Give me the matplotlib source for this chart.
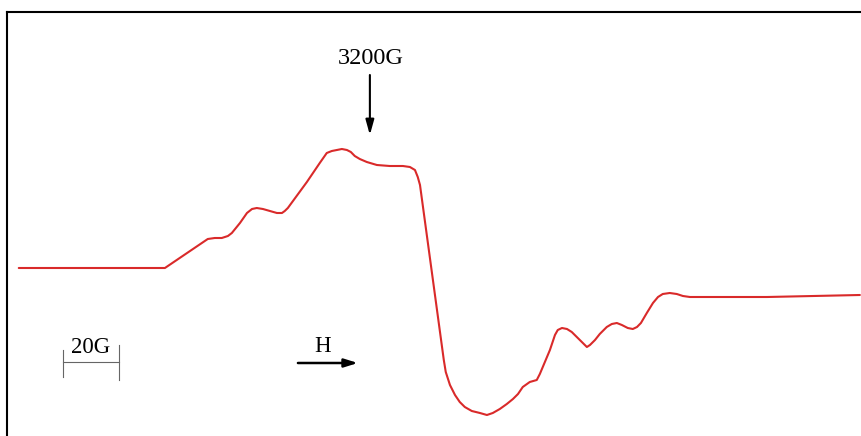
import matplotlib.pyplot as plt

# EPR spectrum trace (field in gauss, signal in arbitrary units)
field = [3074.6, 3126.8, 3142.1, 3144.6, 3147.1, 3149.3, 3150.7, 3153.6, 3156.1,
         3157.9, 3159.6, 3161.8, 3164.3, 3166.8, 3168.6, 3169.6, 3170.7, 3177.5,
         3182.1, 3184.6, 3186.4, 3188.2, 3190.0, 3191.8, 3193.2, 3194.6, 3196.4,
         3198.9, 3202.5, 3207.1, 3211.8, 3214.3, 3216.1, 3217.1, 3217.9, 3226.4,
         3227.1, 3228.6, 3230.4, 3232.1, 3233.9, 3236.4, 3239.3, 3241.8, 3243.9,
         3246.4, 3248.9, 3251.1, 3252.9, 3254.6, 3257.1, 3259.6, 3260.7, 3264.3,
         3266.1, 3267.1, 3268.6, 3270.4, 3272.1, 3273.9, 3275.7, 3277.5, 3278.6,
         3280.4, 3282.1, 3284.6, 3286.4, 3288.2, 3290.0, 3292.1, 3293.9, 3295.4,
         3296.8, 3298.9, 3301.1, 3302.9, 3304.6, 3307.1, 3309.6, 3311.8, 3314.3,
         3341.8, 3375.0]
signal = [0, 0, 29, 30, 30, 32, 35, 45, 55,
          59, 60, 59, 57, 55, 55, 57, 60, 86,
          105, 115, 117, 118, 119, 118, 116, 112, 109,
          106, 103, 102, 102, 101, 98, 91, 83, -92,
          -104, -117, -127, -134, -139, -143, -145, -147, -145,
          -141, -136, -131, -126, -119, -114, -112, -106, -82,
          -67, -62, -60, -61, -64, -69, -74, -79, -77,
          -72, -66, -59, -56, -55, -57, -60, -61, -59,
          -55, -45, -35, -29, -26, -25, -26, -28, -29,
          -29, -27]

center_label = "3200G"
center_field = 3200
scale_label = "20G"
scale_width = 20

fig = plt.figure(figsize=(8.61, 4.36), dpi=100)
ax = fig.add_axes([7 / 861, 0, 1 - 7 / 861, 1 - 12 / 436])
ax.set_xlim(3070.4, 3375.4)
ax.set_ylim(-168, 256)
ax.set_xticks([])
ax.set_yticks([])
ax.spines['right'].set_visible(False)
ax.spines['bottom'].set_visible(False)
ax.spines['top'].set_linewidth(1.5)
ax.spines['left'].set_linewidth(1.5)

ax.plot(field, signal, color='#d92a2a', lw=1.5, solid_joinstyle='round',
        solid_capstyle='round')

serif = ['Liberation Serif', 'DejaVu Serif']

# marker at the central field
ax.text(center_field + 0.4, 210, center_label, ha='center', va='center',
        fontsize=17.5, family=serif)
ax.annotate('', xy=(center_field, 133), xytext=(center_field, 193),
            arrowprops=dict(arrowstyle='-|>,head_length=0.9,head_width=0.25',
                            color='black', lw=1.5, shrinkA=0, shrinkB=0))

# 20 G scale bar
x0 = 3090.4
ax.plot([x0, x0 + scale_width], [-94, -94], color='#666666', lw=0.8)
ax.plot([x0, x0], [-82, -109], color='#666666', lw=0.8)
ax.plot([x0 + scale_width, x0 + scale_width], [-77, -112], color='#666666', lw=0.8)
ax.text(x0 + scale_width / 2, -79, scale_label, ha='center', va='center',
        fontsize=16.5, family=serif)

# field direction
ax.annotate('', xy=(3195.7, -95), xytext=(3174.3, -95),
            arrowprops=dict(arrowstyle='-|>,head_length=0.8,head_width=0.25',
                            color='black', lw=1.8, shrinkA=0, shrinkB=0))
ax.text(3183.2, -78, 'H', ha='center', va='center', fontsize=16.5, family=serif)

fig.savefig('out.png', dpi=100)
